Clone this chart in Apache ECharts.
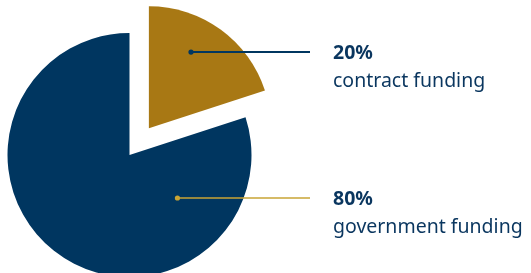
<!DOCTYPE html>
<html><head><meta charset="utf-8">
<script src="https://cdn.jsdelivr.net/npm/echarts@6/dist/echarts.min.js"></script>
<style>html,body{margin:0;padding:0;background:#fff}#c{width:531px;height:273px}</style>
</head><body><div id="c"></div>
<script>
const categories = ['contract funding', 'government funding'];
const values = [20, 80];
const percentLabels = ['20%', '80%'];
const sliceColors = ['#A87814', '#003660'];
const leaderColors = ['#003660', '#C8A434'];

const chart = echarts.init(document.getElementById('c'), null, {renderer: 'canvas'});
const CX = 129.5, CY = 155, R = 122, OFF = 33;
const explodeIndex = 0;
// label anchor per slice: [angle deg clockwise from 12 o'clock, fraction of radius], relative to the slice's own centre
const anchors = [[28.9, 0.714], [131.9, 0.528]];
const lineEndX = 310, textX = 333;
const NONE = 'rgba(0,0,0,0)';

const total = values.reduce((a, b) => a + b, 0);
function explodedCenter() {
  let start = 0;
  for (let k = 0; k < explodeIndex; k++) start += values[k];
  const mid = (start + values[explodeIndex] / 2) / total * 2 * Math.PI;
  return [CX + OFF * Math.sin(mid), CY - OFF * Math.cos(mid)];
}
function sliceCenter(i) { return i === explodeIndex ? explodedCenter() : [CX, CY]; }
function anchorPoint(i) {
  const c = sliceCenter(i);
  const a = anchors[i][0] * Math.PI / 180, r = anchors[i][1] * R;
  return [c[0] + r * Math.sin(a), c[1] - r * Math.cos(a)];
}

const FONT = 'Noto Sans';
const TEXT = '#0a365f';
function pieData(visible) {
  return categories.map((name, i) => ({
    name: name, value: values[i],
    itemStyle: {color: visible(i) ? sliceColors[i] : NONE},
    labelLine: {lineStyle: {color: leaderColors[i], width: i === 0 ? 2 : 1.6}}
  }));
}
const base = {
  type: 'pie', radius: R, startAngle: 90, clockwise: true,
  silent: true, emphasis: {disabled: true}, avoidLabelOverlap: false
};

chart.setOption({
  animation: false,
  backgroundColor: '#fff',
  series: [
    Object.assign({}, base, {
      z: 1, center: [CX, CY], label: {show: false}, labelLine: {show: false},
      data: pieData(i => i !== explodeIndex)
    }),
    Object.assign({}, base, {
      z: 2, center: explodedCenter(), label: {show: false}, labelLine: {show: false},
      data: pieData(i => i === explodeIndex)
    }),
    Object.assign({}, base, {
      z: 3, center: [CX, CY],
      data: pieData(() => false),
      label: {
        show: true,
        position: 'outside',
        formatter: p => '{a|' + percentLabels[p.dataIndex] + '}\n{b|' + p.name + '}',
        rich: {
          a: {fontFamily: FONT, fontWeight: 'bold', fontSize: 19.5, lineHeight: 28, color: TEXT},
          b: {fontFamily: FONT, fontSize: 19.5, lineHeight: 28, color: TEXT}
        }
      },
      labelLine: {show: true},
      labelLayout: function (params) {
        const p = anchorPoint(params.dataIndex);
        return {
          x: textX,
          y: p[1] + 1 - 14,
          align: 'left',
          verticalAlign: 'top',
          labelLinePoints: [[p[0], p[1]], [lineEndX, p[1]], [lineEndX, p[1]]]
        };
      }
    })
  ],
  graphic: categories.map((n, i) => {
    const p = anchorPoint(i);
    return {type: 'circle', shape: {cx: p[0], cy: p[1], r: 2.6}, style: {fill: leaderColors[i]}, z: 100, silent: true};
  })
});
</script></body></html>
